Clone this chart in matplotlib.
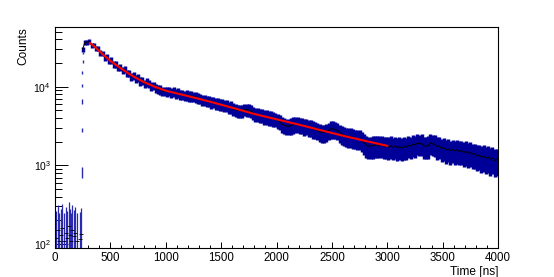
import numpy as np
import matplotlib.pyplot as plt
from matplotlib.ticker import MultipleLocator, LogLocator, NullFormatter

plt.rcParams['font.family'] = ['Liberation Sans', 'DejaVu Sans']
plt.rcParams['mathtext.default'] = 'regular'

# histogram, 20 ns bins starting at 250 ns
bin_width = 20
first_bin = 250
counts = [
    30000, 36900, 36700, 37700, 33600, 34000, 30500, 30400, 26800, 26500,
    23500, 23900, 21500, 21600, 19250, 19360, 17400, 17800, 16200, 16500,
    14760, 14880, 13430, 13860, 12740, 13050, 11760, 11930, 10890, 11360,
    10900, 10200, 10300, 9650, 9280, 9220, 8750, 8780, 8650, 8770,
    8430, 8560, 8180, 8320, 7950, 8010, 7700, 7820, 7550, 7600,
    7520, 7400, 7240, 7050, 6800, 6850, 6560, 6620, 6330, 6350,
    6100, 6150, 5880, 5960, 5700, 5720, 5480, 5520, 5200, 5080,
    4990, 4920, 4980, 5150, 5100, 5060, 4880, 4650, 4430, 4450,
    4270, 4300, 4150, 4160, 4010, 4040, 3900, 3860, 3750, 3620,
    3330, 3230, 3170, 3150, 3200, 3300, 3340, 3360, 3230, 3270,
    3130, 3160, 3000, 3050, 2900, 2880, 2770, 2690, 2620, 2620,
    2690, 2780, 2900, 2900, 2860, 2780, 2620, 2470, 2390, 2380,
    2320, 2310, 2240, 2230, 2170, 2160, 2060, 1930, 1820, 1760,
    1760, 1780, 1810, 1820, 1790, 1810, 1750, 1760, 1720, 1780,
    1700, 1750, 1680, 1730, 1660, 1720, 1700, 1790, 1760, 1850,
    1820, 1920, 1880, 1900, 1770, 1760, 1780, 1930, 1870, 1860,
    1720, 1760, 1640, 1680, 1580, 1620, 1540, 1590, 1530, 1580,
    1510, 1540, 1460, 1500, 1430, 1470, 1390, 1400, 1320, 1350,
    1270, 1310, 1230, 1280, 1200, 1240, 1150, 1180,
]
time_ns = first_bin + bin_width * np.arange(len(counts))

# sparse bins before the pulse (0 = empty bin)
noise_time = np.arange(5, 240, 10)
noise_counts = [120, 0, 150, 110, 0, 130, 160, 0, 110, 140, 120, 0,
                170, 130, 110, 150, 0, 125, 140, 110, 0, 0, 115, 135]

# rising edge points around 247 ns
edge_time = [246.0, 246.5, 247.0, 247.5, 248.0, 248.5, 249.0]
edge_counts = [820, 2800, 6500, 10300, 15100, 21000, 27000]
edge_err = [135, 180, 390, 500, 650, 800, 1000]

# fit curve
fit_time = [316, 350, 400, 450, 500, 600, 700, 800, 900, 1000,
            1200, 1400, 1600, 1800, 2000, 2200, 2400, 2600, 2800, 3000]
fit_counts = [35900, 33000, 28400, 24500, 21300, 16900, 13700, 11500, 10000, 8900,
              7600, 6450, 5400, 4500, 3850, 3300, 2800, 2380, 2050, 1770]

weight = 175  # scaled entries per raw count

fig = plt.figure(figsize=(5.54, 2.77), dpi=100)
ax = fig.add_axes([55 / 554, 29 / 277, 443 / 554, 221 / 277])
ax.set_yscale('log')

y = np.array(counts, dtype=float)
err = np.sqrt(weight * y)
ax.vlines(time_ns, np.maximum(y - err, 1), y + err, color='#000099', lw=2.5)
ax.plot(time_ns, y, color='black', lw=0.7)

nz = np.array(noise_counts, dtype=float)
m = nz > 0
nerr = np.sqrt(weight * nz[m])
ax.vlines(noise_time[m], np.maximum(nz[m] - nerr, 1), nz[m] + nerr, color='#2a2ab0', lw=0.9)
ax.plot(noise_time[m], nz[m], '_', color='black', ms=3, mew=0.6)

ey = np.array(edge_counts, dtype=float)
ax.vlines(edge_time, ey - np.array(edge_err), ey + np.array(edge_err), color='#2a2ab0', lw=1.0)

ax.plot(fit_time, fit_counts, color='red', lw=1.5)

ax.set_xlim(0, 4000)
ax.set_ylim(89, 57400)
ax.xaxis.set_major_locator(MultipleLocator(500))
ax.xaxis.set_minor_locator(MultipleLocator(100))
ax.yaxis.set_major_locator(LogLocator(base=10))
ax.yaxis.set_minor_locator(LogLocator(base=10, subs=np.arange(2, 10)))
ax.yaxis.set_minor_formatter(NullFormatter())

ax.tick_params(which='both', direction='in', top=False, right=False, width=0.7)
ax.tick_params(axis='y', which='major', length=9.4, pad=3, labelsize=7.5)
ax.tick_params(axis='y', which='minor', length=5)
ax.tick_params(axis='x', which='major', length=4.3, pad=3, labelsize=8.3)
ax.tick_params(axis='x', which='minor', length=2.2)
for s in ax.spines.values():
    s.set_linewidth(0.8)

ax.set_xlabel('Time [ns]', loc='right', fontsize=8.6, labelpad=1)
ax.set_ylabel('Counts', loc='top', fontsize=8.6, labelpad=3)

fig.savefig('out.png', dpi=100)
